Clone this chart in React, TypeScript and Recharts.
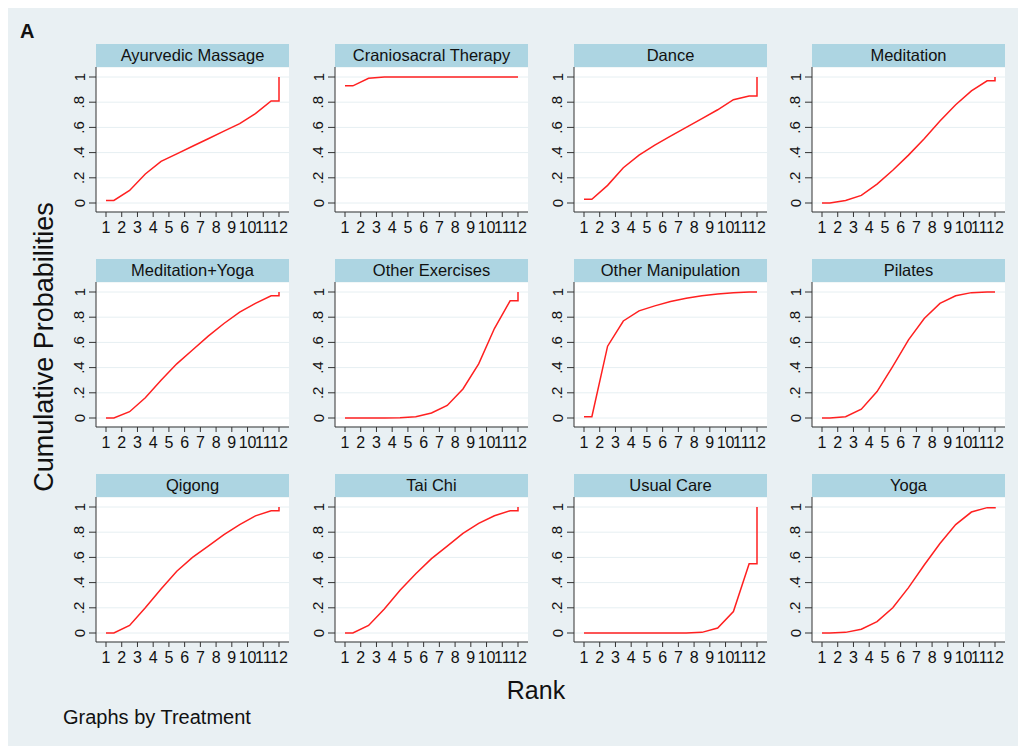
import { LineChart, Line, XAxis, YAxis, CartesianGrid } from "recharts";

// cumulative probability of being ranked k or better, k = 1..11 (rank 12 is always 1)
const TREATMENTS = [
  "Ayurvedic Massage",
  "Craniosacral Therapy",
  "Dance",
  "Meditation",
  "Meditation+Yoga",
  "Other Exercises",
  "Other Manipulation",
  "Pilates",
  "Qigong",
  "Tai Chi",
  "Usual Care",
  "Yoga",
];

const AYURVEDIC_MASSAGE = [0.02, 0.1, 0.23, 0.33, 0.39, 0.45, 0.51, 0.57, 0.63, 0.71, 0.81];
const CRANIOSACRAL = [0.93, 0.99, 1.0, 1.0, 1.0, 1.0, 1.0, 1.0, 1.0, 1.0, 1.0];
const DANCE = [0.03, 0.14, 0.28, 0.38, 0.46, 0.53, 0.6, 0.67, 0.74, 0.82, 0.85];
const MEDITATION = [0.0, 0.02, 0.06, 0.15, 0.26, 0.38, 0.51, 0.65, 0.78, 0.89, 0.97];
const MEDITATION_YOGA = [0.0, 0.05, 0.16, 0.3, 0.43, 0.54, 0.65, 0.75, 0.84, 0.91, 0.97];
const OTHER_EXERCISES = [0.0, 0.0, 0.0, 0.002, 0.01, 0.04, 0.1, 0.23, 0.43, 0.71, 0.93];
const OTHER_MANIPULATION = [0.01, 0.57, 0.77, 0.85, 0.89, 0.925, 0.95, 0.97, 0.985, 0.995, 1.0];
const PILATES = [0.0, 0.01, 0.07, 0.21, 0.41, 0.62, 0.79, 0.91, 0.97, 0.995, 1.0];
const QIGONG = [0.0, 0.06, 0.2, 0.35, 0.49, 0.6, 0.69, 0.78, 0.86, 0.93, 0.97];
const TAI_CHI = [0.0, 0.06, 0.19, 0.34, 0.47, 0.59, 0.69, 0.79, 0.87, 0.93, 0.97];
const USUAL_CARE = [0.0, 0.0, 0.0, 0.0, 0.0, 0.0, 0.0, 0.005, 0.04, 0.17, 0.55];
const YOGA = [0.0, 0.005, 0.03, 0.09, 0.2, 0.36, 0.54, 0.71, 0.86, 0.96, 0.995];

const SERIES = [
  AYURVEDIC_MASSAGE,
  CRANIOSACRAL,
  DANCE,
  MEDITATION,
  MEDITATION_YOGA,
  OTHER_EXERCISES,
  OTHER_MANIPULATION,
  PILATES,
  QIGONG,
  TAI_CHI,
  USUAL_CARE,
  YOGA,
];

const RANKS = [1, 2, 3, 4, 5, 6, 7, 8, 9, 10, 11, 12];
const Y_TICKS = [0, 0.2, 0.4, 0.6, 0.8, 1];

// stata-style path: flat start, values at half ranks, jump to 1 at rank 12
const toPoints = (cum: number[]) => {
  const pts = [
    { x: 1, y: cum[0] },
    { x: 1.5, y: cum[0] },
  ];
  for (let k = 1; k < cum.length; k++) pts.push({ x: k + 1.5, y: cum[k] });
  pts.push({ x: 12, y: cum[cum.length - 1] });
  pts.push({ x: 12, y: 1 });
  return pts;
};

const fmtY = (v: number) => (v === 0 ? "0" : v === 1 ? "1" : String(v).replace(/^0/, ""));

const YTick = (props: any) => {
  const { x, y, payload } = props;
  const cx = x - 8;
  return (
    <text
      x={cx}
      y={y}
      textAnchor="middle"
      dominantBaseline="central"
      fontSize={15}
      fill="#111"
      transform={`rotate(-90, ${cx}, ${y})`}
    >
      {fmtY(payload.value)}
    </text>
  );
};

const COL_X = [88, 327, 566, 804];
const ROW_Y = [36, 251, 466];
const BG = "#e9f0f3";
const STRIP = "#add5e2";

function Panel({ i }: { i: number }) {
  const left = COL_X[i % 4];
  const top = ROW_Y[Math.floor(i / 4)];
  return (
    <>
      <div
        style={{
          position: "absolute",
          left,
          top,
          width: 193,
          height: 23,
          background: STRIP,
          fontSize: 16.5,
          lineHeight: "23px",
          textAlign: "center",
          color: "#111",
        }}
      >
        {TREATMENTS[i]}
      </div>
      <div style={{ position: "absolute", left: left - 40, top: top + 23 }}>
        <LineChart
          width={233}
          height={180}
          data={toPoints(SERIES[i])}
          margin={{ top: 0, right: 0, bottom: 0, left: 0 }}
        >
          <CartesianGrid vertical={false} stroke="#e6eff2" fill="#ffffff" />
          <XAxis
            type="number"
            dataKey="x"
            domain={[1, 12]}
            ticks={RANKS}
            interval={0}
            padding={{ left: 10, right: 10 }}
            height={35}
            tickSize={5}
            tickMargin={5}
            stroke="#333"
            tick={{ fontSize: 16, fill: "#111" }}
          />
          <YAxis
            type="number"
            domain={[0, 1]}
            ticks={Y_TICKS}
            padding={{ top: 10, bottom: 9 }}
            width={40}
            tickSize={7}
            stroke="#333"
            tick={<YTick />}
          />
          <Line
            type="linear"
            dataKey="y"
            stroke="#ff2020"
            strokeWidth={1.5}
            dot={false}
            isAnimationActive={false}
          />
        </LineChart>
      </div>
    </>
  );
}

export default function App() {
  return (
    <div
      style={{
        position: "relative",
        width: 1010,
        height: 738,
        background: BG,
        fontFamily: '"Liberation Sans", Arial, Helvetica, sans-serif',
        color: "#111",
      }}
    >
      <div style={{ position: "absolute", left: 12, top: 12, fontSize: 20, fontWeight: "bold" }}>A</div>
      {TREATMENTS.map((_, i) => (
        <Panel key={i} i={i} />
      ))}
      <div
        style={{
          position: "absolute",
          left: 36,
          top: 339,
          fontSize: 27,
          whiteSpace: "nowrap",
          transform: "translate(-50%, -50%) rotate(-90deg)",
        }}
      >
        Cumulative Probabilities
      </div>
      <div
        style={{
          position: "absolute",
          left: 528,
          top: 682,
          fontSize: 25,
          transform: "translate(-50%, -50%)",
        }}
      >
        Rank
      </div>
      <div style={{ position: "absolute", left: 55, top: 698, fontSize: 20 }}>Graphs by Treatment</div>
    </div>
  );
}
